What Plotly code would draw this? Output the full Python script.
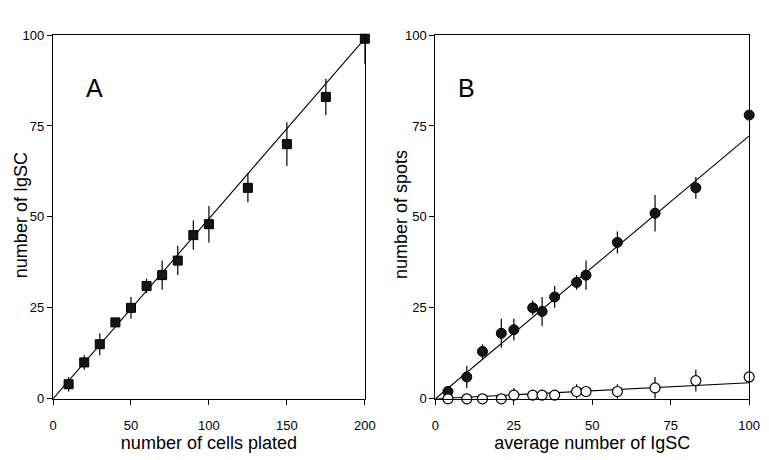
import plotly.graph_objects as go

# Panel A data
cells_plated = [10, 20, 30, 40, 50, 60, 70, 80, 90, 100, 125, 150, 175, 200]
igsc_count = [4, 10, 15, 21, 25, 31, 34, 38, 45, 48, 58, 70, 83, 99]
igsc_err = [2, 2, 3, 1, 3, 2, 4, 4, 4, 5, 4, 6, 5, 7]
fit_a_x = [0, 200]
fit_a_y = [0, 99]

# Panel B data
avg_igsc = [4, 10, 15, 21, 25, 31, 34, 38, 45, 48, 58, 70, 83, 100]
spots_filled = [2, 6, 13, 18, 19, 25, 24, 28, 32, 34, 43, 51, 58, 78]
spots_filled_err = [1, 3, 2, 4, 3, 2, 4, 3, 2, 4, 3, 5, 3, 1]
spots_open = [0, 0, 0, 0, 1, 1, 1, 1, 2, 2, 2, 3, 5, 6]
spots_open_err = [0, 0, 0, 0, 2, 1.5, 1.5, 1.5, 2, 1.5, 2, 3, 3, 0]
fit_b1_x = [0, 100]
fit_b1_y = [0, 72.3]
fit_b2_x = [0, 100]
fit_b2_y = [0, 4.4]

FONT = "Liberation Sans, Arial, sans-serif"
fig = go.Figure()

# Panel A
fig.add_trace(go.Scatter(x=fit_a_x, y=fit_a_y, mode="lines",
                         line=dict(color="black", width=1.1),
                         xaxis="x", yaxis="y", showlegend=False))
fig.add_trace(go.Scatter(x=cells_plated, y=igsc_count, mode="markers",
                         marker=dict(symbol="square", size=9, color="#151515",
                                     line=dict(color="black", width=1)),
                         error_y=dict(type="data", array=igsc_err, color="black",
                                      thickness=1.2, width=0),
                         cliponaxis=False, xaxis="x", yaxis="y", showlegend=False))

# Panel B
fig.add_trace(go.Scatter(x=fit_b1_x, y=fit_b1_y, mode="lines",
                         line=dict(color="black", width=1.1),
                         xaxis="x2", yaxis="y2", showlegend=False))
fig.add_trace(go.Scatter(x=fit_b2_x, y=fit_b2_y, mode="lines",
                         line=dict(color="black", width=1.1),
                         xaxis="x2", yaxis="y2", showlegend=False))
fig.add_trace(go.Scatter(x=avg_igsc, y=spots_filled, mode="markers",
                         marker=dict(symbol="circle", size=10, color="#151515",
                                     line=dict(color="black", width=1)),
                         error_y=dict(type="data", array=spots_filled_err, color="black",
                                      thickness=1.2, width=0),
                         cliponaxis=False, xaxis="x2", yaxis="y2", showlegend=False))
fig.add_trace(go.Scatter(x=avg_igsc, y=spots_open, mode="markers",
                         marker=dict(symbol="circle", size=10, color="white",
                                     line=dict(color="black", width=1.2)),
                         error_y=dict(type="data", array=spots_open_err, color="black",
                                      thickness=1.2, width=0),
                         cliponaxis=False, xaxis="x2", yaxis="y2", showlegend=False))

axis_common = dict(showline=True, linecolor="black", linewidth=1.2, mirror=True,
                   ticks="outside", ticklen=5, tickwidth=1, tickcolor="black",
                   showgrid=False, zeroline=False,
                   tickfont=dict(family=FONT, size=13, color="black"))
xaxis_extra = dict(ticklabelstandoff=10)

ydom = [(460 - 405) / 460, (460 - 29) / 460]
ymid = 1 - 215 / 460
fig.update_layout(
    width=769, height=460,
    margin=dict(l=0, r=0, t=0, b=0),
    paper_bgcolor="white", plot_bgcolor="white",
    font=dict(family=FONT, color="black"),
    xaxis=dict(domain=[50 / 769, 368 / 769], range=[0, 200], tickvals=[0, 50, 100, 150, 200],
               title=dict(text="number of cells plated", font=dict(size=18), standoff=0),
               anchor="y", **axis_common, **xaxis_extra),
    yaxis=dict(domain=ydom, range=[0, 100], tickvals=[0, 25, 50, 75, 100],
               anchor="x", **axis_common),
    xaxis2=dict(domain=[440 / 769, 760 / 769], range=[0, 100], tickvals=[0, 25, 50, 75, 100],
                title=dict(text="average number of IgSC", font=dict(size=18), standoff=0),
                anchor="y2", **axis_common, **xaxis_extra),
    yaxis2=dict(domain=ydom, range=[0, 100], tickvals=[0, 25, 50, 75, 100],
                anchor="x2", **axis_common),
    annotations=[
        dict(text="number of IgSC", x=17.5 / 769, y=ymid, xref="paper", yref="paper",
             textangle=-90, xanchor="center", yanchor="middle", showarrow=False,
             font=dict(family=FONT, size=18, color="black")),
        dict(text="number of spots", x=405 / 769, y=ymid, xref="paper", yref="paper",
             textangle=-90, xanchor="center", yanchor="middle", showarrow=False,
             font=dict(family=FONT, size=18, color="black")),
        dict(text="A", x=82 / 769, y=1 - 67 / 460, xref="paper", yref="paper",
             showarrow=False, font=dict(family=FONT, size=25, color="black")),
        dict(text="B", x=472 / 769, y=1 - 67 / 460, xref="paper", yref="paper",
             showarrow=False, font=dict(family=FONT, size=25, color="black")),
    ],
)

fig.write_html("out.html")
